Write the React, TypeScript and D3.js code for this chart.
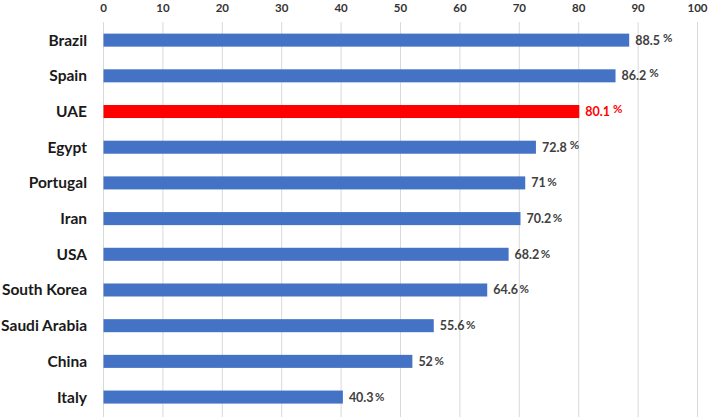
import React from "react";
import * as d3 from "d3";

const countries = ["Brazil", "Spain", "UAE", "Egypt", "Portugal", "Iran", "USA", "South Korea", "Saudi Arabia", "China", "Italy"];
const values = [88.5, 86.2, 80.1, 72.8, 71, 70.2, 68.2, 64.6, 55.6, 52, 40.3];
const highlight = ["UAE"];
const ticks = [0, 10, 20, 30, 40, 50, 60, 70, 80, 90, 100];

const W = 709, H = 417;
const FONT = "Lato, 'Open Sans', sans-serif";

export default function App() {
  const x = d3.scaleLinear().domain([0, 100]).range([103.5, 697.5]);
  const y = d3.scaleBand<string>().domain(countries).range([22.2, 415]).paddingInner(0.635).paddingOuter(0.32);
  return (
    <svg width={W} height={H} style={{ position: "absolute", left: 0, top: 0, background: "#fff" }}>
      {ticks.map(t => (
        <g key={t}>
          <line x1={x(t)} x2={x(t)} y1={22} y2={H} stroke="#d9d9d9" strokeWidth={1} />
          <text x={x(t)} y={12} textAnchor="middle" fontFamily={FONT} fontWeight={700} fontSize={11.5} fill="#333">{t}</text>
        </g>
      ))}
      {countries.map((c, i) => {
        const hi = highlight.includes(c);
        const yc = (y(c) as number) + y.bandwidth() / 2;
        return (
          <g key={c}>
            <rect x={x(0)} y={y(c)} width={x(values[i]) - x(0)} height={y.bandwidth()} fill={hi ? "#ff0000" : "#4472c4"} />
            <text x={87} y={yc + 5.5} textAnchor="end" fontFamily={FONT} fontWeight={700} fontSize={15.5} fill="#1a1a1a">{c}</text>
            <text x={x(values[i]) + 6} y={yc + 4.5} fontFamily={FONT} fontWeight={700} fontSize={12.5} fill={hi ? "#ff0000" : "#404040"}>
              {values[i]}
              <tspan dx={i < 4 ? 3 : 1.5} dy={i < 4 ? -3 : -1} fontSize={11.5}>%</tspan>
            </text>
          </g>
        );
      })}
    </svg>
  );
}
